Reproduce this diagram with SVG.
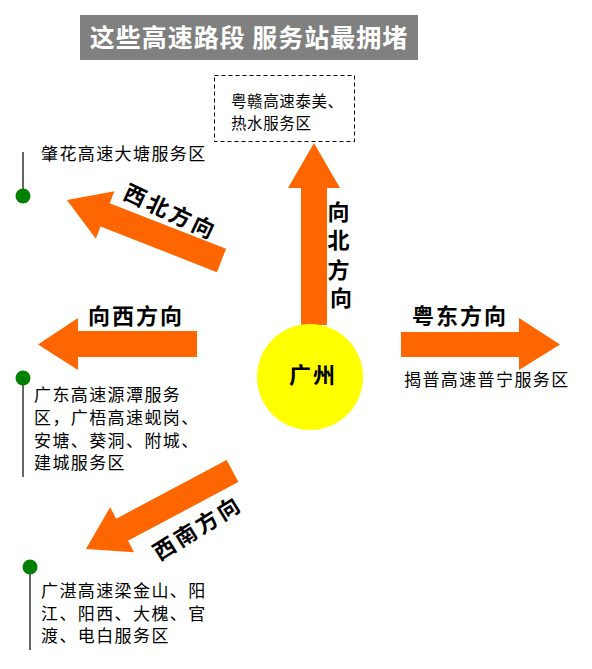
<svg xmlns="http://www.w3.org/2000/svg" width="592" height="669" viewBox="0 0 592 669">
  <style>
    .body { font-family: "Noto Sans CJK SC", "Liberation Sans", sans-serif; font-size: 17px; letter-spacing: 1.4px; fill: #000; }
    .box { font-family: "Noto Sans CJK SC", "Liberation Sans", sans-serif; font-size: 15.5px; letter-spacing: 0.6px; fill: #000; }
    .lab { font-family: "Noto Sans CJK SC", "Liberation Sans", sans-serif; font-size: 22px; font-weight: bold; letter-spacing: 2px; fill: #000; }
    .title { font-family: "Noto Sans CJK SC", "Liberation Sans", sans-serif; font-size: 25px; font-weight: bold; letter-spacing: 1px; fill: #fff; }
    .arrow { fill: #FF6600; }
    .pin { stroke: #000; stroke-width: 1.2; }
    .dot { fill: #008000; }
  </style>
  <defs>
    <polygon id="arw" points="0,-12.5 125,-12.5 125,-25.5 166,0 125,25.5 125,12.5 0,12.5"/>
  </defs>

  <g id="title">
    <rect x="80" y="15" width="338" height="45" fill="#808080"/>
    <text class="title" x="249" y="47" text-anchor="middle">这些高速路段 服务站最拥堵</text>
  </g>

  <g id="connectors">
    <polygon class="arrow" points="301,325 301,188 288,188 314,143 340,188 327,188 327,325"/>
    <polygon class="arrow" points="401,332 519,332 519,318 560,344.5 519,370 519,357 401,357"/>
    <polygon class="arrow" points="197,331 78,331 78,318 38,344.5 78,370 78,357 197,357"/>
    <use href="#arw" class="arrow" transform="translate(221.5,260.5) rotate(201.4)"/>
    <use href="#arw" class="arrow" transform="translate(232.5,471) rotate(152)"/>
  </g>

  <g id="guangzhou">
    <circle cx="310" cy="377" r="53" fill="#FFFF00"/>
    <text class="lab" x="313" y="383" text-anchor="middle">广州</text>
  </g>

  <g id="north">
    <rect x="214.5" y="75.5" width="140" height="66" fill="none" stroke="#000" stroke-width="1" stroke-dasharray="4,3"/>
    <text class="box" x="231" y="106.5">粤赣高速泰美、</text>
    <text class="box" x="231" y="128.5">热水服务区</text>
    <text class="lab" text-anchor="middle" style="letter-spacing:0">
      <tspan x="341" y="220">向</tspan>
      <tspan x="341" y="248">北</tspan>
      <tspan x="341" y="278">方</tspan>
      <tspan x="341" y="306">向</tspan>
    </text>
  </g>

  <g id="east">
    <text class="lab" x="412" y="323.5">粤东方向</text>
    <text class="body" x="404" y="386">揭普高速普宁服务区</text>
  </g>

  <g id="northwest">
    <line class="pin" x1="23" y1="152" x2="23" y2="196"/>
    <circle class="dot" cx="23" cy="196" r="7.5"/>
    <text class="body" x="41" y="160">肇花高速大塘服务区</text>
    <text class="lab" transform="translate(170.5,212) rotate(25)" x="0" y="8" text-anchor="middle" style="letter-spacing:3px">西北方向</text>
  </g>

  <g id="west">
    <text class="lab" x="88" y="323.5">向西方向</text>
    <line class="pin" x1="23" y1="378" x2="23" y2="477"/>
    <circle class="dot" cx="23" cy="378" r="7.5"/>
    <text class="body" x="34" y="401">广东高速源潭服务</text>
    <text class="body" x="34" y="424">区，广梧高速蚬岗、</text>
    <text class="body" x="34" y="446.5">安塘、葵洞、附城、</text>
    <text class="body" x="34" y="469">建城服务区</text>
  </g>

  <g id="southwest">
    <text class="lab" transform="translate(197.5,528) rotate(-32)" x="0" y="8" text-anchor="middle" style="letter-spacing:3px">西南方向</text>
    <line class="pin" x1="30" y1="567" x2="30" y2="650"/>
    <circle class="dot" cx="30" cy="567" r="7.5"/>
    <text class="body" x="41" y="597">广湛高速梁金山、阳</text>
    <text class="body" x="41" y="620">江、阳西、大槐、官</text>
    <text class="body" x="41" y="642">渡、电白服务区</text>
  </g>
</svg>
